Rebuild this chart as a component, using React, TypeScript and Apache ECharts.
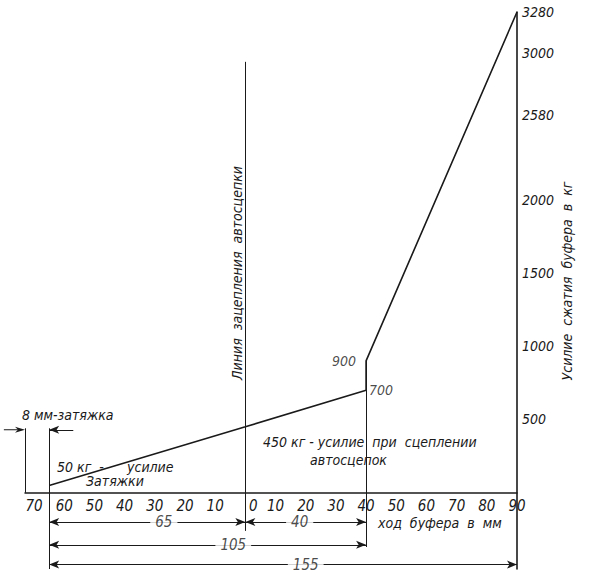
import React, { useEffect, useRef } from "react";
import * as echarts from "echarts";

// Buffer characteristic: travel (mm, coupling line = 0) vs force (kg)
const travel = [-65, 0, 40, 40, 90];
const force = [50, 450, 700, 900, 3280];

// Tick labels
const forceTicks = [500, 1000, 1500, 2000, 2580, 3000, 3280];
const travelTicks = [-70, -60, -50, -40, -30, -20, -10, 0, 10, 20, 30, 40, 50, 60, 70, 80, 90];

// Vertical guide lines (data coords)
const guideX = [-73, -65, 0, 40];
const guideTop = [440, 440, 2940, 900];
const guideBottom = [0, -520, -260, -370];

// Dimension lines
const dimNames = ["65", "40", "105", "155"];
const dimFrom = [-65, 0, -65, -65];
const dimTo = [0, 40, 40, 90];
const dimLevel = [-200, -200, -355, -490];
const dimLabelAt = [-27, 18, -4, 20];

// 8 mm preload arrows
const preloadFrom = [-80, -57];
const preloadTo = [-73, -65];
const preloadLevel = 430;

// Point labels
const pointNames = ["900", "700"];
const pointX = [40, 40];
const pointY = [900, 700];

const FONT = '"Liberation Sans Narrow", "DejaVu Sans Condensed", "Noto Sans", sans-serif';
const INK = "#1a1a1a";

const X_MIN = -73;
const X_MAX = 90;
const Y_MIN = -520;
const Y_MAX = 3280;
const GRID_TOP = 12;
const GRID_BOTTOM = 6;
const H = 575;

export default function App() {
  const ref = useRef<HTMLDivElement>(null);
  useEffect(() => {
    if (!ref.current) return;
    const chart = echarts.init(ref.current, undefined, { renderer: "svg" });

    // pixel offset that puts the x axis on force = 0
    const gridH = H - GRID_TOP - GRID_BOTTOM;
    const zeroFromBottom = (gridH * (0 - Y_MIN)) / (Y_MAX - Y_MIN);

    const markData: any[] = [];
    guideX.forEach((x, i) => {
      markData.push([
        { coord: [x, guideBottom[i]], symbol: "none" },
        { coord: [x, guideTop[i]], symbol: "none" },
      ]);
    });
    dimNames.forEach((_, i) => {
      markData.push([
        { coord: [dimFrom[i], dimLevel[i]], symbol: "arrow" },
        { coord: [dimTo[i], dimLevel[i]], symbol: "arrow" },
      ]);
    });
    // arrows whose both ends lie inside the axis range
    preloadFrom.forEach((x, i) => {
      if (x < X_MIN) return;
      markData.push([
        { coord: [x, preloadLevel], symbol: "none" },
        { coord: [preloadTo[i], preloadLevel], symbol: "arrow" },
      ]);
    });

    const txt = (text: string, x: number, y: number, size = 14, extra: any = {}) => ({
      type: "text",
      x,
      y,
      ...extra,
      style: {
        text,
        fill: INK,
        fontFamily: FONT,
        fontStyle: "italic",
        fontSize: size,
        align: extra.align || "left",
        verticalAlign: "middle",
      },
    });

    const texts = [
      txt("8 мм-затяжка", 22, 415, 14),
      txt("50 кг  -", 57, 467, 14),
      txt("усилие", 127, 467, 14),
      txt("Затяжки", 86, 481, 14),
      txt("450 кг - усилие  при  сцеплении", 263, 442, 14),
      txt("автосцепок", 310, 460, 14),
      txt("ход  буфера  в  мм", 378, 523, 14),
      txt("Линия  зацепления  автосцепки", 237, 273, 14, { rotation: Math.PI / 2, align: "center" }),
      txt("Усилие  сжатия  буфера  в  кг", 567, 281, 14, { rotation: Math.PI / 2, align: "center" }),
    ];

    const option: any = {
      animation: false,
      backgroundColor: "#fff",
      textStyle: { fontFamily: FONT, fontStyle: "italic", color: INK },
      grid: {
        left: 25,
        right: 83,
        top: GRID_TOP,
        bottom: GRID_BOTTOM,
        containLabel: false,
        outerBoundsMode: "none",
      },
      xAxis: {
        type: "value",
        min: X_MIN,
        max: X_MAX,
        interval: 1,
        position: "bottom",
        offset: -zeroFromBottom,
        axisLine: { show: true, onZero: false, lineStyle: { color: INK, width: 1.5 } },
        axisTick: { show: false },
        splitLine: { show: false },
        axisLabel: {
          margin: 6,
          fontSize: 15,
          fontStyle: "italic",
          fontFamily: FONT,
          color: INK,
          formatter: (v: number) => {
            const r = Math.round(v);
            if (!travelTicks.includes(r)) return "";
            return r === 0 ? "{z|0}" : String(Math.abs(r));
          },
          rich: { z: { padding: [0, 0, 0, 16], fontSize: 15, fontStyle: "italic", fontFamily: FONT, color: INK } },
        },
      },
      yAxis: {
        type: "value",
        position: "right",
        min: Y_MIN,
        max: Y_MAX,
        interval: 20,
        axisLine: { show: true, onZero: false, lineStyle: { color: INK, width: 1.6 } },
        axisTick: { show: false },
        splitLine: { show: false },
        axisLabel: {
          margin: 5,
          fontSize: 14,
          fontStyle: "italic",
          fontFamily: FONT,
          color: INK,
          formatter: (v: number) => {
            const r = Math.round(v);
            return forceTicks.includes(r) ? String(r) : "";
          },
        },
      },
      series: [
        {
          type: "line",
          data: travel.map((x, i) => [x, force[i]]),
          symbol: "none",
          lineStyle: { color: INK, width: 1.6 },
          z: 3,
          markLine: {
            silent: true,
            animation: false,
            symbolSize: [6, 10],
            label: { show: false },
            lineStyle: { color: INK, width: 1, type: "solid" },
            emphasis: { disabled: true },
            data: markData,
          },
        },
        {
          type: "scatter",
          data: dimLabelAt.map((x, i) => [x, dimLevel[i]]),
          symbolSize: 0,
          z: 10,
          silent: true,
          label: {
            show: true,
            position: "inside",
            formatter: (p: any) => dimNames[p.dataIndex],
            backgroundColor: "#fff",
            padding: [1, 5],
            fontSize: 15,
            fontStyle: "italic",
            fontFamily: FONT,
            color: INK,
          },
        },
        {
          type: "scatter",
          data: pointX.map((x, i) => ({
            value: [x, pointY[i]],
            label: { position: i === 0 ? "left" : "right", distance: i === 0 ? 10 : 3 },
          })),
          symbolSize: 0,
          z: 10,
          silent: true,
          label: {
            show: true,
            formatter: (p: any) => pointNames[p.dataIndex],
            fontSize: 14,
            fontStyle: "italic",
            fontFamily: FONT,
            color: INK,
          },
        },
      ],
      graphic: texts,
    };
    chart.setOption(option);

    // arrows that start outside the axis range: converted through the chart's scales
    const extra: any[] = [];
    preloadFrom.forEach((x, i) => {
      if (x >= X_MIN) return;
      const a = chart.convertToPixel({ gridIndex: 0 }, [x, preloadLevel]) as number[];
      const b = chart.convertToPixel({ gridIndex: 0 }, [preloadTo[i], preloadLevel]) as number[];
      const dir = b[0] > a[0] ? 1 : -1;
      extra.push({
        type: "line",
        shape: { x1: a[0], y1: a[1], x2: b[0] - dir * 6, y2: b[1] },
        style: { stroke: INK, lineWidth: 1 },
      });
      extra.push({
        type: "polygon",
        shape: {
          points: [
            [b[0], b[1]],
            [b[0] - dir * 10, b[1] - 3],
            [b[0] - dir * 7, b[1]],
            [b[0] - dir * 10, b[1] + 3],
          ],
        },
        style: { fill: INK },
      });
    });
    chart.setOption({ graphic: [...texts, ...extra] });

    return () => chart.dispose();
  }, []);
  return <div ref={ref} style={{ position: "fixed", left: 0, top: 0, width: 600, height: 575 }} />;
}
